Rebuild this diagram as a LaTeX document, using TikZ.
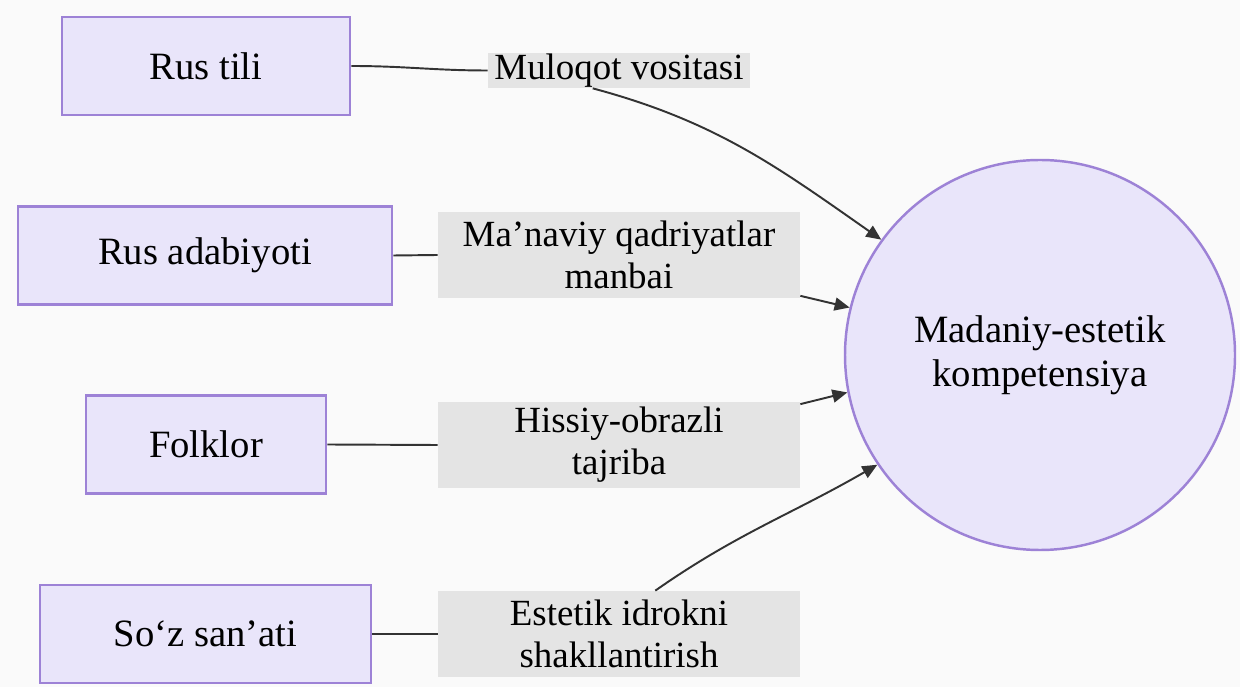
\documentclass[tikz,border=0pt]{standalone}
\usepackage{fontspec}
\setmainfont{Liberation Serif}
\usetikzlibrary{arrows.meta,positioning,calc}
\definecolor{boxfill}{HTML}{E9E5FA}
\definecolor{boxline}{HTML}{9D82D6}
\definecolor{labfill}{HTML}{E4E4E4}
\definecolor{edge}{HTML}{333333}
\definecolor{bg}{HTML}{FAFAFA}

\begin{document}
\begin{tikzpicture}[
  src/.style={draw=boxline,fill=boxfill,line width=1.5pt,minimum height=1.96cm,
    font=\fontsize{22}{26}\selectfont},
  lab/.style={fill=labfill,align=center,minimum width=7.24cm,minimum height=1.72cm,
    inner sep=0pt,font=\fontsize{21}{24}\selectfont},
  conn/.style={edge,line width=1.1pt},
  arr/.style={conn,-{Triangle[length=3mm,width=2.6mm]}}
]
  \useasboundingbox[fill=bg] (0,0) rectangle (24.8,13.74);
  % sources on the left
  \node[src,minimum width=5.76cm] (rus)  at (4.12,12.42) {Rus tili};
  \node[src,minimum width=7.48cm] (adab) at (4.10,8.63)  {Rus adabiyoti};
  \node[src,minimum width=4.80cm] (folk) at (4.12,4.85)  {Folklor};
  \node[src,minimum width=6.62cm] (soz)  at (4.11,1.06)  {So‘z san’ati};
  % edge labels
  \node[lab,minimum width=5.24cm,minimum height=0.7cm] (m1) at (12.38,12.33) {Muloqot vositasi};
  \node[lab] (m2) at (12.38,8.64) {Ma’naviy qadriyatlar\\manbai};
  \node[lab] (m3) at (12.38,4.84) {Hissiy-obrazli\\tajriba};
  \node[lab] (m4) at (12.38,1.06) {Estetik idrokni\\shakllantirish};
  % target
  \node[circle,draw=boxline,fill=boxfill,line width=1.4pt,minimum size=7.8cm,align=center,
    font=\fontsize{22}{25}\selectfont] (goal) at (20.8,6.64) {Madaniy-estetik\\kompetensiya};
  % connectors
  \draw[conn] (rus.east) to[out=0,in=180] (m1.west);
  \draw[arr] ($(m1.south west)!0.4!(m1.south east)$) to[out=-15,in=145] (goal.144);
  \draw[conn] (adab.east) -- (m2.west);
  \draw[arr] ([yshift=0.05cm]m2.south east) -- (goal.166);
  \draw[conn] (folk.east) -- (m3.west);
  \draw[arr] ([yshift=-0.05cm]m3.north east) -- (goal.191);
  \draw[conn] (soz.east) -- (m4.west);
  \draw[arr] ($(m4.north west)!0.6!(m4.north east)$) to[out=35,in=-150] (goal.214);
\end{tikzpicture}
\end{document}
